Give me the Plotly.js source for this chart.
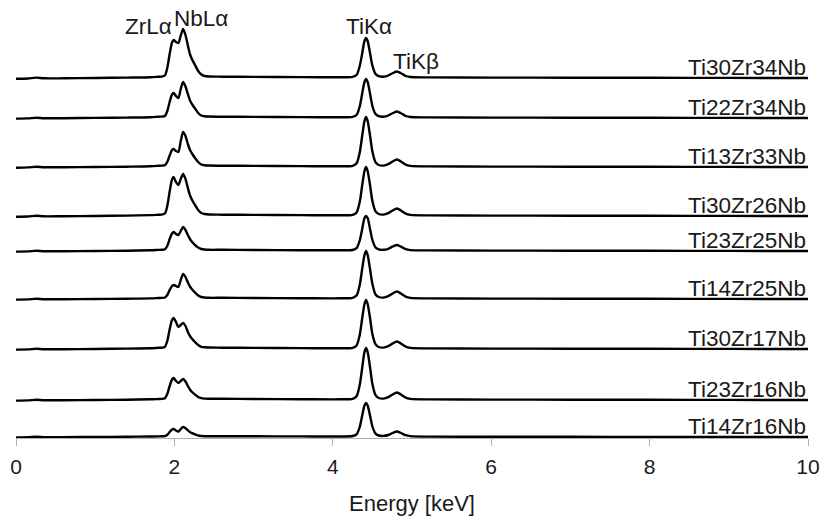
<!DOCTYPE html>
<html>
<head>
<meta charset="utf-8">
<script src="https://cdn.plot.ly/plotly-3.0.1.min.js"></script>
<style>html,body{margin:0;padding:0;background:#fff;}#chart{width:825px;height:517px;}</style>
</head>
<body>
<div id="chart"></div>
<script>
// Energy grid (keV)
const energy = [0, 0.15, 0.26, 0.35, 0.6, 1.0, 1.4, 1.7, 1.8,
  1.84, 1.88, 1.91, 1.94, 1.97, 1.99, 2.02, 2.05, 2.08, 2.11, 2.14, 2.17, 2.20, 2.23, 2.26, 2.30, 2.34, 2.38, 2.44,
  2.6, 3.0, 3.6, 4.1,
  4.25, 4.30, 4.34, 4.37, 4.40, 4.42, 4.44, 4.47, 4.50, 4.54, 4.58,
  4.64, 4.70, 4.76, 4.81, 4.86, 4.92, 4.98,
  5.2, 6.0, 7.0, 8.0, 9.0, 10.0];

// Sample names (top to bottom)
const samples = ['Ti30Zr34Nb', 'Ti22Zr34Nb', 'Ti13Zr33Nb', 'Ti30Zr26Nb', 'Ti23Zr25Nb',
                 'Ti14Zr25Nb', 'Ti30Zr17Nb', 'Ti23Zr16Nb', 'Ti14Zr16Nb'];

// Vertical offset of each spectrum (arb. units)
const offsets = [360, 320, 271, 222, 187, 139, 89, 38, 1];

// Peak labels
const peakLabels = ['ZrLα', 'NbLα', 'TiKα', 'TiKβ'];

// Intensities (arb. units) above each spectrum's baseline
const s_Ti30Zr34Nb = [-0.8,-0.5,0.4,-0.3,-0.3,0,0.4,0.8,1.3,
  1.4,2.5,10,24,35.5,38,36,35,42.5,49,43,32.5,23,17.5,13,7,3.5,2,1.5,
  1.3,1.1,0.9,0.7,
  1.1,3,12,24,37,40,37,25,12.5,4,1.8,
  1.3,2.5,5,6.5,4.8,2,1,
  0.6,0.4,0.3,0.2,0.1,0];
const s_Ti22Zr34Nb = [-0.6,-0.4,0.3,-0.2,-0.2,0.1,0.4,0.8,1.3,
  1.4,2,7,16,23.5,25,22,20,29,36,31.5,24,17,13,9.5,5,2.5,1.8,1.5,
  1.3,1.1,0.9,0.7,
  1.1,3,11.5,24,36,39,36,24.5,12,4,1.8,
  1.3,2.5,5,6.5,4.8,2,1,
  0.6,0.4,0.3,0.2,0.1,0];
const s_Ti13Zr33Nb = [-0.7,-0.4,0.3,-0.2,-0.2,0,0.3,0.7,1.2,
  1.4,1.8,5,11.5,17,18,16,15,26,35,31,23,16.5,12.5,9,5,2.5,1.8,1.5,
  1.3,1.1,0.9,0.7,
  1.2,3.7,14.5,30.5,46,50,46,31.5,15.5,4.7,2,
  1.4,2.8,5.8,7.5,5.5,2.3,1.1,
  0.6,0.4,0.3,0.2,0.1,0];
const s_Ti30Zr26Nb = [-0.7,-0.5,0.3,-0.3,-0.2,0,0.4,0.9,1.3,
  1.4,2.5,10,24.5,36.5,39,34,31,37,42,37,28,20,15,11,6,3,2,1.5,
  1.3,1.1,0.9,0.7,
  1.2,3.6,14,30,45,49,45,31,15,4.6,2,
  1.4,2.8,5.8,7.5,5.5,2.3,1.1,
  0.6,0.4,0.3,0.2,0.1,0];
const s_Ti23Zr25Nb = [-0.6,-0.4,0.3,-0.2,-0.2,0,0.3,0.7,1.1,
  1.2,1.8,5,12,17.5,19,17,16,20,24,21,16,11.5,8.5,6,3.5,2,1.5,1.2,
  1.2,1.0,0.8,0.7,
  1,2.8,10.5,21.5,33,35,33,22,11,3.5,1.6,
  1.2,2.2,4.6,6,4.3,1.9,0.9,
  0.6,0.4,0.3,0.2,0.1,0];
const s_Ti14Zr25Nb = [-0.6,-0.4,0.3,-0.2,-0.2,0,0.3,0.6,1.0,
  1.1,1.5,4,9,13,14,13,12,19,25,22,16.5,12,9,6.5,3.5,2,1.5,1.2,
  1.2,1.0,0.8,0.7,
  1.2,3.5,14,29.5,44,48,44,30,15,4.5,2,
  1.4,2.8,5.8,7.5,5.5,2.3,1.1,
  0.6,0.4,0.3,0.2,0.1,0];
const s_Ti30Zr17Nb = [-0.6,-0.4,0.3,-0.2,-0.2,0,0.4,0.8,1.2,
  1.3,2.2,8,19.5,29,31,27,22,24,26,23,17,12.5,9.5,7,4,2.2,1.7,1.5,
  1.3,1.1,0.9,0.7,
  1.2,3.6,14,30,45,49,45,31,15,4.6,2,
  1.4,2.8,5.8,7.5,5.5,2.3,1.1,
  0.6,0.4,0.3,0.2,0.1,0];
const s_Ti23Zr16Nb = [-0.6,-0.4,0.3,-0.2,-0.2,0,0.3,0.7,1.0,
  1.1,1.8,6,14,20.5,22,19,17,19,21,18.5,14,10,7.5,5.5,3,1.8,1.4,1.2,
  1.2,1.0,0.8,0.7,
  1.2,3.8,15,31.5,48,52,48,33,16,4.8,2,
  1.4,2.8,5.8,7.5,5.5,2.3,1.1,
  0.6,0.4,0.3,0.2,0.1,0];
const s_Ti14Zr16Nb = [-0.5,-0.3,0.2,-0.1,-0.1,0,0.2,0.5,0.6,
  0.7,0.9,2.2,5,7.5,8,6.5,5.5,8,10,8.8,6.6,4.8,3.6,2.6,1.5,1,0.8,0.7,
  0.8,0.7,0.6,0.5,
  1,2.7,10,21,31.5,34,31.5,21.5,10.5,3.4,1.5,
  1.1,2,4.2,5.5,4,1.8,0.9,
  0.4,0.3,0.2,0.1,0.05,0];

const spectra = [s_Ti30Zr34Nb, s_Ti22Zr34Nb, s_Ti13Zr33Nb, s_Ti30Zr26Nb, s_Ti23Zr25Nb,
                 s_Ti14Zr25Nb, s_Ti30Zr17Nb, s_Ti23Zr16Nb, s_Ti14Zr16Nb];

const FONT = 'Liberation Sans, Arial, sans-serif';
const TXT = '#1a1a1a';

const traces = spectra.map((s, i) => ({
  x: energy,
  y: s.map(v => v + offsets[i]),
  type: 'scatter',
  mode: 'lines',
  name: samples[i],
  line: {color: '#000000', width: 2.4, shape: 'spline', smoothing: 0.7},
  hoverinfo: 'skip'
}));

const annotations = samples.map((name, i) => ({
  text: name, x: 10, y: offsets[i] + 11, xref: 'x', yref: 'y',
  xanchor: 'right', yanchor: 'middle', showarrow: false,
  font: {family: FONT, size: 22.5, color: TXT}
}));

const peakPos = [[1.67, 412], [2.33, 420], [4.46, 412], [5.05, 377]];
peakLabels.forEach((t, i) => annotations.push({
  text: t, x: peakPos[i][0], y: peakPos[i][1], xref: 'x', yref: 'y',
  xanchor: 'center', yanchor: 'middle', showarrow: false,
  font: {family: FONT, size: 22.5, color: TXT}
}));

const layout = {
  width: 825, height: 517,
  margin: {l: 16, r: 17, t: 10, b: 79},
  paper_bgcolor: '#ffffff', plot_bgcolor: '#ffffff',
  showlegend: false,
  xaxis: {
    range: [0, 10], tickvals: [0, 2, 4, 6, 8, 10], ticktext: ['0', '2', '4', '6', '8', '10'],
    showgrid: false, zeroline: false, showline: true, linecolor: '#b0b0b0', linewidth: 1,
    ticks: 'outside', ticklen: 7, tickcolor: '#b0b0b0', tickwidth: 1,
    ticklabelstandoff: 3,
    tickfont: {family: FONT, size: 21, color: TXT},
    title: {text: 'Energy [keV]', font: {family: FONT, size: 22, color: TXT}, standoff: 18}
  },
  yaxis: {range: [0, 428], visible: false, showgrid: false, zeroline: false},
  annotations: annotations
};

Plotly.newPlot('chart', traces, layout, {staticPlot: true, displayModeBar: false});
</script>
</body>
</html>
